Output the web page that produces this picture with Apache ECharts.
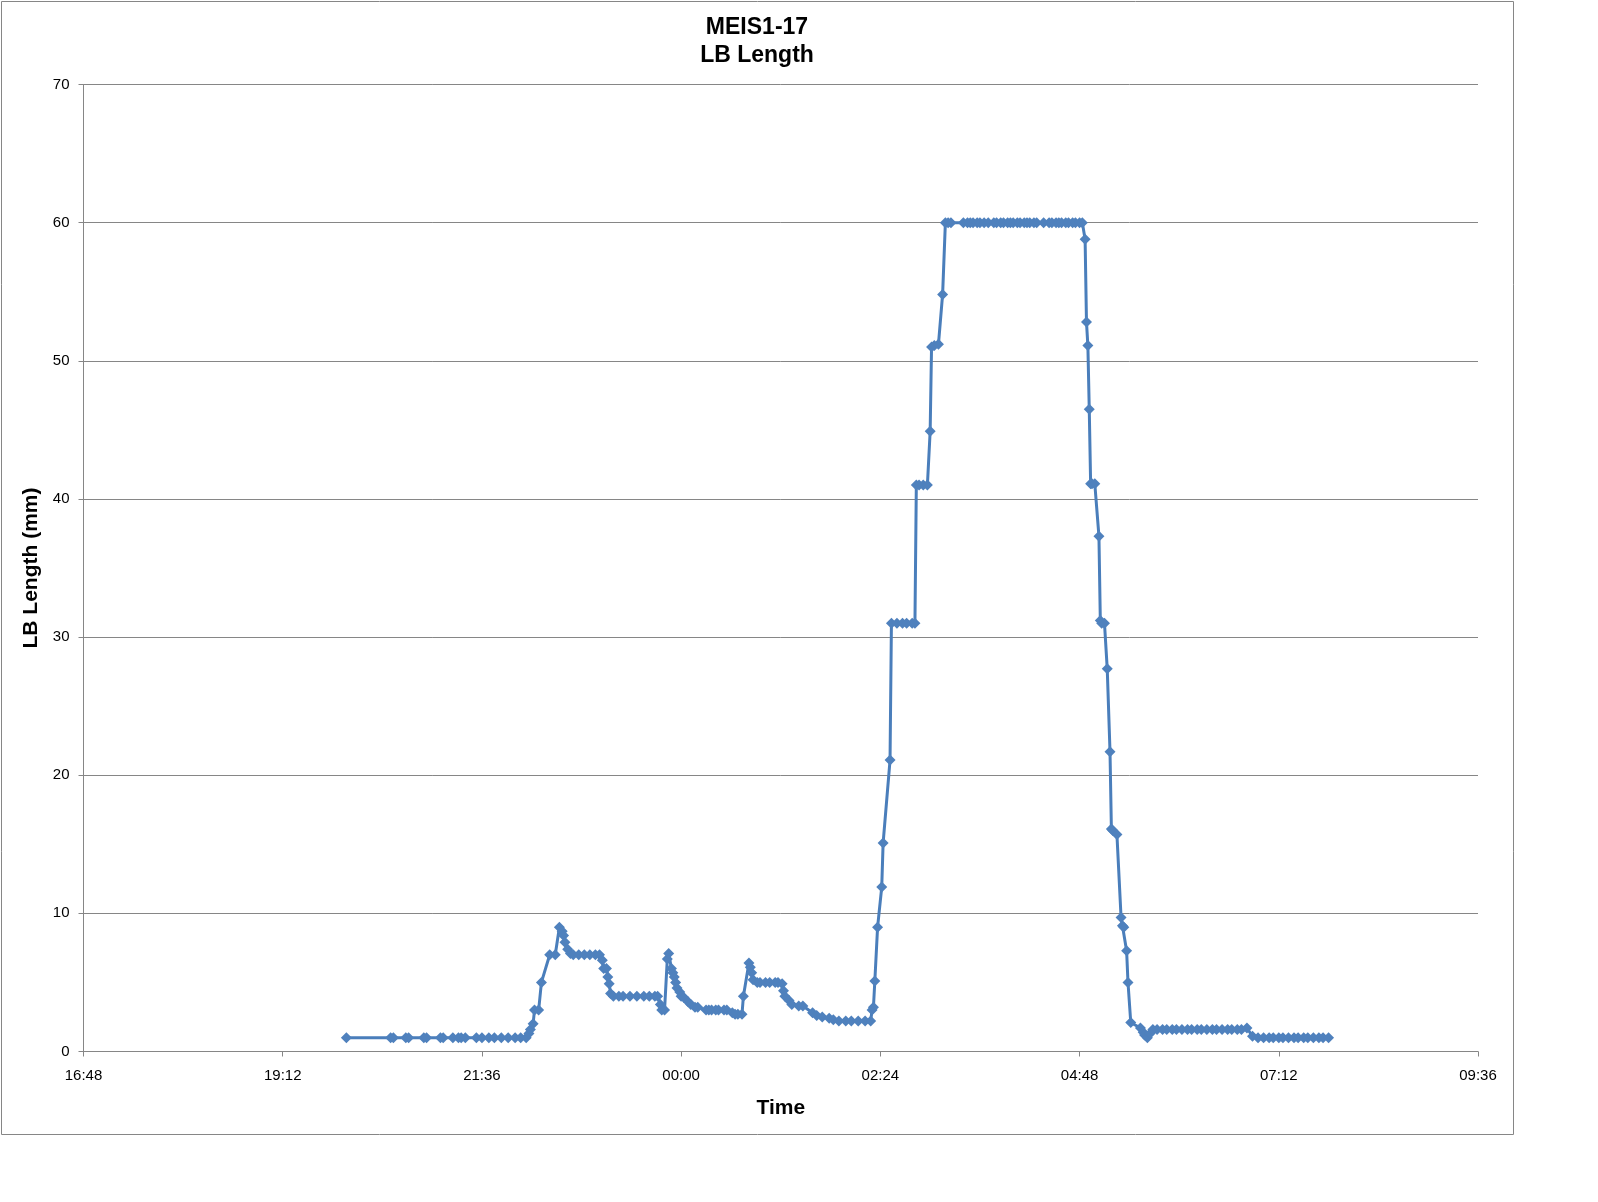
<!DOCTYPE html>
<html>
<head>
<meta charset="utf-8">
<script src="https://cdn.jsdelivr.net/npm/echarts@6/dist/echarts.min.js"></script>
<style>
html,body{margin:0;padding:0;background:#fff;}
#chart{width:1598px;height:1202px;}
</style>
</head>
<body>
<div id="chart"></div>
<script>
// Time stamps (hh:mm, evening then next morning)
const times = [
"19:58","20:30","20:32","20:41","20:43","20:54","20:56","21:06","21:08","21:15","21:19","21:21","21:24","21:32","21:36","21:41","21:45","21:50","21:55","22:00","22:04","22:08",
"22:10","22:11","22:13","22:14","22:17","22:19","22:25","22:29","22:32","22:34","22:35","22:36","22:38","22:40","22:42","22:46","22:50","22:54","22:58","23:01",
"23:03","23:04","23:06","23:07","23:08","23:09","23:11","23:15","23:18","23:23","23:28","23:33","23:37","23:41","23:43","23:45","23:46","23:48",
"23:50","23:51","23:53","23:54","23:55","23:56","23:57","23:59","00:00","00:02","00:05","00:07","00:10","00:12","00:18","00:20","00:22","00:25","00:27","00:31","00:33",
"00:37","00:39","00:41","00:44","00:45","00:49","00:50","00:51","00:52","00:55","00:57","01:01","01:04","01:08","01:10","01:13","01:14","01:15","01:18","01:20","01:25","01:28",
"01:35","01:38","01:42","01:47","01:50","01:54","01:59","02:03","02:08","02:13","02:17","02:18","02:19","02:20","02:22","02:25","02:26","02:31",
"02:32","02:36","02:40","02:43","02:47","02:49","02:50","02:52","02:55","02:58","03:00","03:01","03:03","03:06","03:09",
"03:11","03:13","03:15","03:24","03:27","03:29","03:31","03:34","03:36","03:39","03:42","03:46","03:48","03:51","03:53","03:56","03:58","04:00","04:03","04:05","04:08","04:10","04:12","04:15","04:17","04:22","04:26","04:28","04:31","04:33","04:35","04:38","04:40","04:43","04:45","04:48","04:50","04:52",
"04:53","04:54","04:55","04:56","04:57","04:59","05:02","05:03","05:04","05:06","05:08","05:10","05:11","05:12","05:15","05:18","05:19","05:20","05:22","05:23","05:25",
"05:32","05:34","05:35","05:37","05:39","05:41","05:44","05:48","05:51","05:55","05:58","06:02","06:06","06:09","06:13","06:16","06:20","06:24","06:27","06:31","06:35","06:38","06:42","06:45","06:49","06:53",
"06:57","07:01","07:05","07:08","07:12","07:15","07:19","07:23","07:26","07:30","07:33","07:37","07:41","07:44","07:48","07:52"
];
// LB Length (mm)
const lengths = [
1.0,1.0,1.0,1.0,1.0,1.0,1.0,1.0,1.0,1.0,1.0,1.0,1.0,1.0,1.0,1.0,1.0,1.0,1.0,1.0,1.0,1.0,
1.3,1.6,2.0,3.0,3.0,5.0,7.0,7.0,9.0,8.7,8.4,7.9,7.4,7.1,7.0,7.0,7.0,7.0,7.0,7.0,
6.6,6.0,6.0,5.4,4.9,4.2,4.0,4.0,4.0,4.0,4.0,4.0,4.0,4.0,4.0,3.4,3.0,3.0,
6.7,7.1,6.0,5.7,5.4,5.0,4.6,4.3,4.0,3.9,3.6,3.4,3.2,3.2,3.0,3.0,3.0,3.0,3.0,3.0,3.0,
2.8,2.7,2.7,2.7,4.0,6.4,6.1,5.7,5.2,5.0,5.0,5.0,5.0,5.0,5.0,4.9,4.4,4.0,3.7,3.4,3.3,3.3,
2.8,2.6,2.5,2.4,2.3,2.2,2.2,2.2,2.2,2.2,2.2,3.0,3.2,5.1,9.0,11.9,15.1,21.1,
31.0,31.0,31.0,31.0,31.0,31.0,41.0,41.0,41.0,41.0,44.9,51.0,51.1,51.2,54.8,
60,60,60,60,60,60,60,60,60,60,60,60,60,60,60,60,60,60,60,60,60,60,60,60,60,60,60,60,60,60,60,60,60,60,60,60,60,
58.8,52.8,51.1,46.5,41.1,41.1,41.1,37.3,31.2,31.0,31.0,27.7,21.7,16.1,16.0,15.7,9.7,9.1,9.0,7.3,5.0,
2.1,1.7,1.4,1.2,1.0,1.3,1.6,1.6,1.6,1.6,1.6,1.6,1.6,1.6,1.6,1.6,1.6,1.6,1.6,1.6,1.6,1.6,1.6,1.6,1.6,1.7,
1.1,1.0,1.0,1.0,1.0,1.0,1.0,1.0,1.0,1.0,1.0,1.0,1.0,1.0,1.0,1.0
];
const xTickStart = "16:48", xTickEnd = "09:36", xTickStep = 144; // minutes
const yMin = 0, yMax = 70, yStep = 10;
const titleText = "MEIS1-17\nLB Length";
const xName = "Time", yName = "LB Length (mm)";

function toMin(s){ const p = s.split(":"); let h = +p[0], m = +p[1]; let v = h*60+m; if (h < 12) v += 1440; return v; }
function fmt(v){ const m = ((v % 1440) + 1440) % 1440; const h = Math.floor(m/60), mm = Math.round(m%60); return String(h).padStart(2,"0")+":"+String(mm).padStart(2,"0"); }

const data = times.map((t,i)=>[toMin(t), lengths[i]]);
const FONT = "'Liberation Sans', Arial, sans-serif";
const GRID = "#868686";

const chart = echarts.init(document.getElementById('chart'), null, {renderer:'canvas'});
chart.setOption({
  animation:false,
  backgroundColor:'#fff',
  title:{
    text:titleText, left:752, top:9, textAlign:'center',
    textStyle:{fontFamily:FONT, fontSize:23, fontWeight:'bold', color:'#000', lineHeight:28}
  },
  graphic:[{type:'rect', shape:{x:1.5,y:1.5,width:1512,height:1133}, style:{fill:null, stroke:GRID, lineWidth:1}, silent:true, z:-1}],
  grid:{left:83.5, right:120, top:84.5, bottom:150.5, containLabel:false},
  xAxis:{
    type:'value', min:toMin(xTickStart), max:toMin(xTickEnd), interval:xTickStep,
    name:xName, nameLocation:'middle', nameGap:46,
    nameTextStyle:{fontFamily:FONT, fontSize:21, fontWeight:'bold', color:'#000'},
    axisLine:{show:true, lineStyle:{color:GRID, width:1}},
    axisTick:{show:true, length:5, lineStyle:{color:GRID}},
    axisLabel:{formatter:fmt, fontFamily:FONT, fontSize:15, color:'#000', margin:17},
    splitLine:{show:false}
  },
  yAxis:{
    type:'value', min:yMin, max:yMax, interval:yStep,
    name:yName, nameLocation:'middle', nameGap:42,
    nameTextStyle:{fontFamily:FONT, fontSize:21, fontWeight:'bold', color:'#000'},
    axisLine:{show:true, lineStyle:{color:GRID, width:1}},
    axisTick:{show:true, length:5, lineStyle:{color:GRID}},
    axisLabel:{fontFamily:FONT, fontSize:15, color:'#000', margin:14},
    splitLine:{show:true, lineStyle:{color:GRID, width:1}}
  },
  series:[{
    type:'line', data:data, symbol:'diamond', symbolSize:11, showAllSymbol:true,
    lineStyle:{color:'#4A7EBB', width:3},
    itemStyle:{color:'#4F81BD', borderWidth:0}
  }]
});
</script>
</body>
</html>
